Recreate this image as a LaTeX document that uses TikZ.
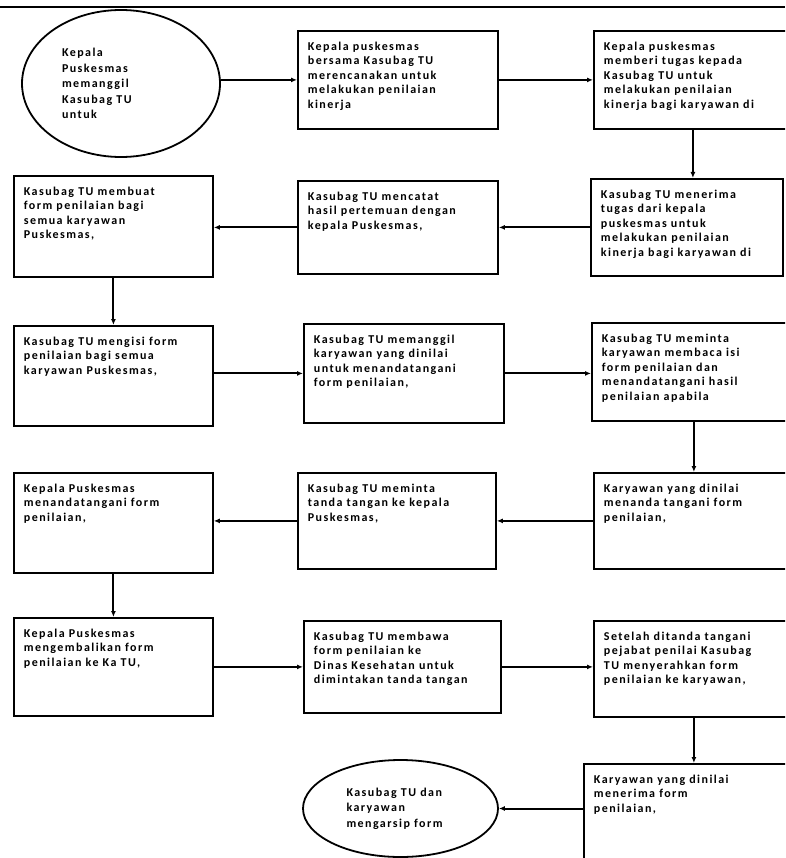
\documentclass[tikz,border=0pt]{standalone}
\usepackage{fontspec}
\setmainfont{Carlito}[LetterSpace=12]
\usetikzlibrary{shapes.geometric,arrows.meta,calc}

\tikzset{
  stepbox/.style={draw, line width=1.8pt, inner xsep=10pt, inner ysep=9pt,
    anchor=north west, font=\bfseries\fontsize{12}{14.5}\selectfont},
  terminal/.style={draw, ellipse, line width=1.8pt, inner sep=0pt,
    align=left, font=\bfseries\fontsize{12}{15.5}\selectfont},
  flow/.style={line width=2pt, -{Latex[length=6pt,width=5pt]}},
}

% box with its lines of text set from the top-left corner
\newcommand\stepnode[6]{%
  \node[stepbox, minimum width=#4pt, minimum height=#5pt] (#1) at (#2,#3)
    {\parbox[c][\dimexpr #5pt-18pt\relax][t]{\dimexpr #4pt-20pt\relax}%
      {\begin{tabular}[t]{@{}l@{}}#6\end{tabular}}};}

\begin{document}
\begin{tikzpicture}[x=1pt,y=-1pt]
\useasboundingbox (0,0) rectangle (785,858);
\clip (0,0) rectangle (785,858);

% header rule
\draw[line width=1.8pt] (0,7) -- (785,7);

% start
\node[terminal, minimum width=198pt, minimum height=147pt] (S) at (121,83.5)
  {\hspace*{-18pt}\parbox{100pt}{Kepala\\Puskesmas\\memanggil\\Kasubag TU\\untuk}};

% row 1
\stepnode{A}{297}{30}{200}{98}{Kepala puskesmas\\bersama Kasubag TU\\merencanakan untuk\\melakukan penilaian\\kinerja}
\stepnode{B}{593}{30}{198}{98}{Kepala puskesmas\\memberi tugas kepada\\Kasubag TU untuk\\melakukan penilaian\\kinerja bagi karyawan di}

% row 2
\stepnode{C}{590}{178}{192}{97}{Kasubag TU menerima\\tugas dari kepala\\puskesmas untuk\\melakukan penilaian\\kinerja bagi karyawan di}
\stepnode{D}{297}{180}{200}{93}{Kasubag TU mencatat\\hasil pertemuan dengan\\kepala Puskesmas,}
\stepnode{E}{13}{175}{199}{101}{Kasubag TU membuat\\form  penilaian bagi\\semua karyawan\\Puskesmas,}

% row 3
\stepnode{F}{13}{325}{199}{100}{Kasubag TU mengisi form\\penilaian bagi semua\\karyawan Puskesmas,}
\stepnode{G}{303}{323}{200}{99}{Kasubag TU memanggil\\karyawan yang dinilai\\untuk menandatangani\\form penilaian,}
\stepnode{H}{591}{322}{202}{98}{Kasubag TU meminta\\karyawan membaca isi\\form penilaian dan\\menandatangani hasil\\penilaian apabila}

% row 4
\stepnode{I}{593}{472}{200}{96}{Karyawan yang dinilai\\menanda tangani form\\penilaian,}
\stepnode{J}{297}{472}{198}{96}{Kasubag TU meminta\\tanda tangan ke kepala\\Puskesmas,}
\stepnode{K}{13}{472}{199}{100}{Kepala Puskesmas\\menandatangani form\\penilaian,}

% row 5
\stepnode{L}{13}{617}{199}{98}{Kepala Puskesmas\\mengembalikan form\\penilaian ke Ka TU,}
\stepnode{M}{303}{620}{197}{92}{Kasubag TU membawa\\form penilaian ke\\Dinas Kesehatan untuk\\dimintakan tanda tangan}
\stepnode{N}{593}{620}{200}{96}{Setelah ditanda tangani\\pejabat penilai Kasubag\\TU menyerahkan form\\penilaian ke karyawan,}

% row 6
\stepnode{O}{583}{763}{210}{110}{Karyawan yang dinilai\\menerima form\\penilaian,}
\node[terminal, minimum width=195pt, minimum height=97pt] (P) at (400.5,808.5)
  {\hspace*{14pt}\parbox{122pt}{Kasubag TU dan\\karyawan\\mengarsip form}};

% connectors
\draw[flow] (S.east |- A.west) -- (A.west);
\draw[flow] (A.east) -- (A.east -| B.west);
\draw[flow] (B.south) -- (B.south |- C.north);
\draw[flow] (C.west) -- (C.west -| D.east);
\draw[flow] (D.west) -- (D.west -| E.east);
\draw[flow] (E.south) -- (E.south |- F.north);
\draw[flow] (G.west -| F.east) -- (G.west);
\draw[flow] (G.east) -- (G.east -| H.west);
\draw[flow] (H.south -| I.north) -- (I.north);
\draw[flow] (I.west) -- (I.west -| J.east);
\draw[flow] (J.west) -- (J.west -| K.east);
\draw[flow] (K.south) -- (K.south |- L.north);
\draw[flow] (L.east) -- (L.east -| M.west);
\draw[flow] (M.east) -- (M.east -| N.west);
\draw[flow] (N.south) -- (N.south |- O.north);
\draw[flow] (P.east -| O.west) -- (P.east);
\end{tikzpicture}
\end{document}
